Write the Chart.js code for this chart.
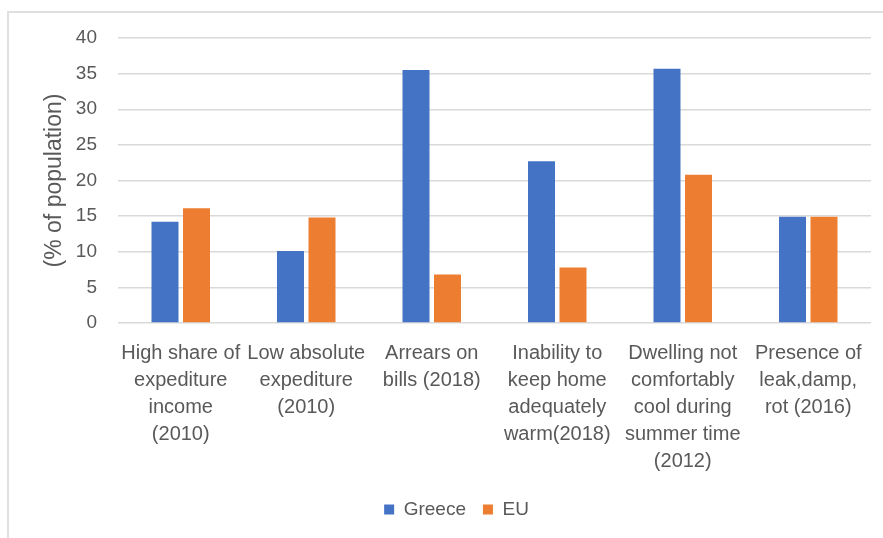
<!DOCTYPE html>
<html>
<head>
<meta charset="utf-8">
<script src="https://cdn.jsdelivr.net/npm/chart.js@4.4.1/dist/chart.umd.min.js"></script>
<style>
  html, body { margin: 0; padding: 0; background: #ffffff; }
  #wrap { position: relative; width: 883px; height: 538px; }
  #frame { position: absolute; left: 7px; top: 11px; right: 0; bottom: 0;
           border-top: 2px solid #e0e0e0; border-left: 2px solid #e0e0e0; pointer-events: none; }
  canvas { position: absolute; left: 0; top: 0; }
</style>
</head>
<body>
<div id="wrap">
  <canvas id="c" width="883" height="538"></canvas>
  <div id="frame"></div>
</div>
<script>
const categories = [
  ["High share of", "expediture", "income", "(2010)"],
  ["Low absolute", "expediture", "(2010)"],
  ["Arrears on", "bills (2018)"],
  ["Inability to", "keep home", "adequately", "warm(2018)"],
  ["Dwelling not", "comfortably", "cool during", "summer time", "(2012)"],
  ["Presence of", "leak,damp,", "rot (2016)"]
];
const greece = [14.2, 10.1, 35.5, 22.7, 35.7, 14.9];
const eu = [16.1, 14.8, 6.8, 7.8, 20.8, 14.9];
const yMin = 0, yMax = 40, yStep = 5;
const yTitle = "(% of population)";

const FONT = "'Liberation Sans', Arial, sans-serif";
const TXT = "#595959";

const shiftLegend = {
  id: 'shiftLegend',
  afterLayout(chart) {
    const lg = chart.legend;
    if (lg) { lg.left += 17; lg.right += 17; }
  }
};

new Chart(document.getElementById('c'), {
  type: 'bar',
  data: {
    labels: categories,
    datasets: [
      { label: 'Greece', data: greece, backgroundColor: '#4472C4', borderWidth: 0,
        categoryPercentage: 0.502, barPercentage: 0.857 },
      { label: 'EU', data: eu, backgroundColor: '#ED7D31', borderWidth: 0,
        categoryPercentage: 0.502, barPercentage: 0.857 }
    ]
  },
  plugins: [shiftLegend],
  options: {
    responsive: false,
    animation: false,
    events: [],
    layout: { padding: { left: 8, top: 38, right: 12, bottom: 9 } },
    plugins: {
      legend: {
        position: 'bottom',
        labels: {
          boxWidth: 10, boxHeight: 10, padding: 17, color: TXT,
          font: { family: FONT, size: 19 }
        }
      },
      tooltip: { enabled: false }
    },
    scales: {
      x: {
        grid: { display: false, drawTicks: false },
        border: { display: false },
        ticks: {
          color: TXT, padding: 17, maxRotation: 0, minRotation: 0, autoSkip: false,
          font: { family: FONT, size: 20, lineHeight: '27px' }
        },
        afterFit: (s) => { s.height = 160; }
      },
      y: {
        min: yMin, max: yMax,
        grid: { color: '#d9d9d9', lineWidth: 1.5, drawTicks: false },
        border: { display: false },
        ticks: {
          stepSize: yStep, color: TXT, padding: 21,
          font: { family: FONT, size: 19 }
        },
        title: {
          display: true, text: yTitle, color: TXT,
          font: { family: FONT, size: 23 },
          padding: { top: 33, bottom: 0 }
        },
        afterFit: (s) => { s.width = 110; }
      }
    }
  }
});
</script>
</body>
</html>
